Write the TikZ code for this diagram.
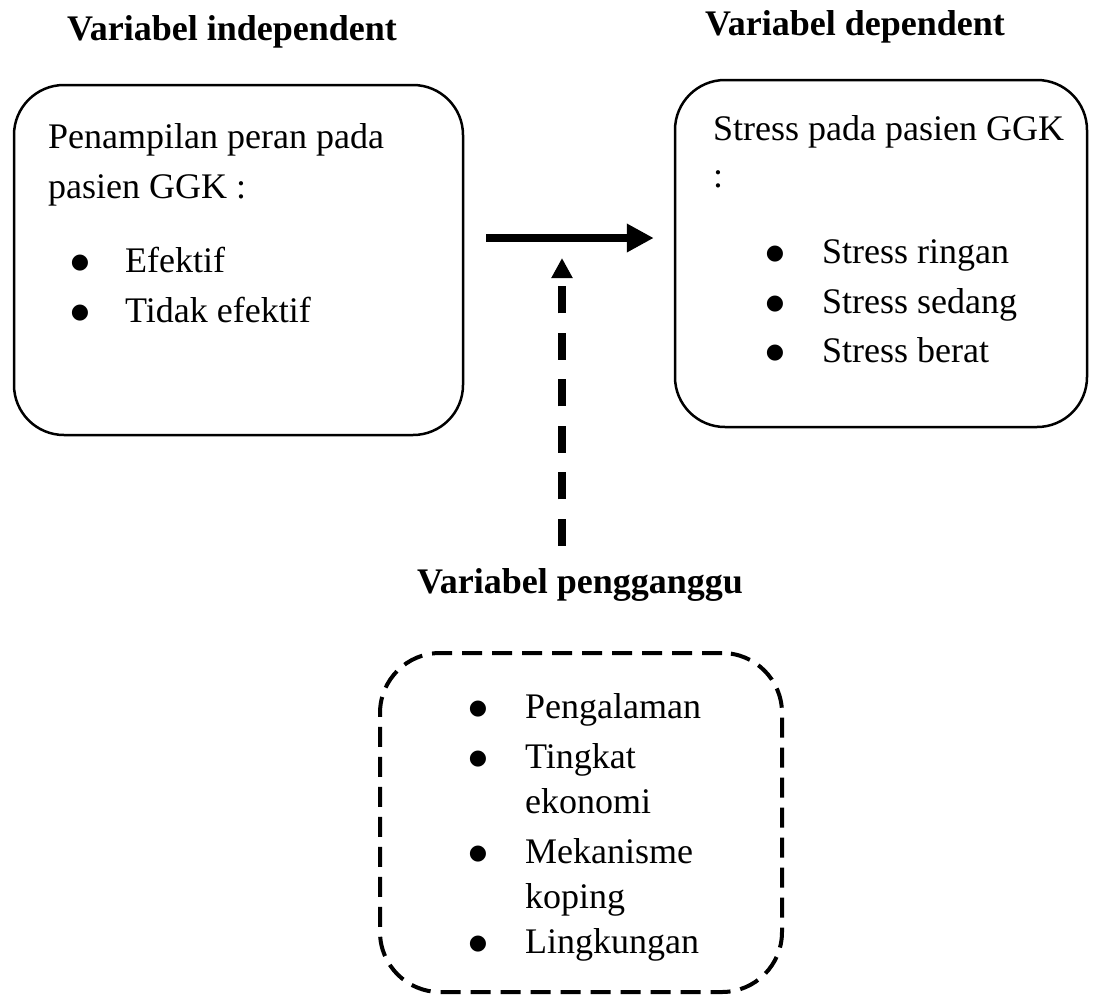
\documentclass[tikz,border=0pt]{standalone}
\usepackage{fontspec}
\setmainfont{Liberation Serif}
\newfontfamily\bulfont{DejaVu Sans}
\usetikzlibrary{arrows.meta, positioning}

\newcommand{\bodyfont}{\fontsize{36}{42}\selectfont}

\tikzset{
  box/.style = {draw, line width=2.5pt, rounded corners=50pt, inner sep=0pt},
  dashbox/.style = {draw, line width=4pt, dash pattern=on 20pt off 10pt,
                    rounded corners=60pt, inner sep=0pt},
  head/.style = {anchor=base, inner sep=0pt, font=\bodyfont\bfseries},
  txt/.style = {anchor=base west, inner sep=0pt, font=\bodyfont},
  bul/.style = {anchor=base, inner sep=0pt, yshift=4pt,
                font=\bulfont\fontsize{21}{21}\selectfont},
  solidarrow/.style = {line width=8pt, -{Triangle[length=27pt, width=27pt]}},
  dasharrow/.style = {line width=8pt, dash pattern=on 27pt off 19.5pt,
                      -{Triangle[length=20pt, width=20pt]}}
}

\begin{document}
\begin{tikzpicture}[x=1pt, y=-1pt]
   \useasboundingbox (0,0) rectangle (1093,997);

   % titles
   \node[head] (indep) at (232,40)  {Variabel independent};
   \node[head] (dep)   at (855,35)  {Variabel dependent};
   \node[head] (peng)  at (580,593) {Variabel pengganggu};

   % boxes
   \node[box, minimum width=449pt, minimum height=350pt] (lbox) at (238.5,260) {};
   \node[box, minimum width=412pt, minimum height=347pt] (rbox) at (881,253.5) {};
   \node[dashbox, minimum width=402pt, minimum height=339pt] (pbox) at (581,822.5) {};

   % left box text
   \node[txt] (l1) at (48,148) {Penampilan peran pada};
   \node[txt] (l2) at (48,198) {pasien GGK :};
   \foreach \y/\t [count=\i] in {272/Efektif, 322/Tidak efektif} {
      \node[bul] (lb\i) at (80,\y) {●};
      \node[txt] (lt\i) at (125,\y) {\t};
   }

   % right box text
   \node[txt] (r1) at (713,140) {Stress pada pasien GGK};
   \node[txt] (r2) at (713,187) {:};
   \foreach \y/\t [count=\i] in {263/Stress ringan, 313/Stress sedang, 362/Stress berat} {
      \node[bul] (rb\i) at (775,\y) {●};
      \node[txt] (rt\i) at (822,\y) {\t};
   }

   % confounding box text
   \foreach \y [count=\i] in {718, 768, 863, 953}
      \node[bul] (pb\i) at (478,\y) {●};
   \foreach \y/\t [count=\i] in {718/Pengalaman, 768/Tingkat, 813/ekonomi,
                                 863/Mekanisme, 908/koping, 953/Lingkungan}
      \node[txt] (pt\i) at (525,\y) {\t};

   % arrows
   \coordinate (lvl) at (0,238);
   \coordinate (tip) at (562,258);
   \draw[solidarrow, shorten <=22pt, shorten >=20pt] (lbox.east |- lvl) -- (rbox.west |- lvl);
   \draw[dasharrow, shorten <=22pt] (peng.north -| tip) -- (tip);
\end{tikzpicture}
\end{document}
